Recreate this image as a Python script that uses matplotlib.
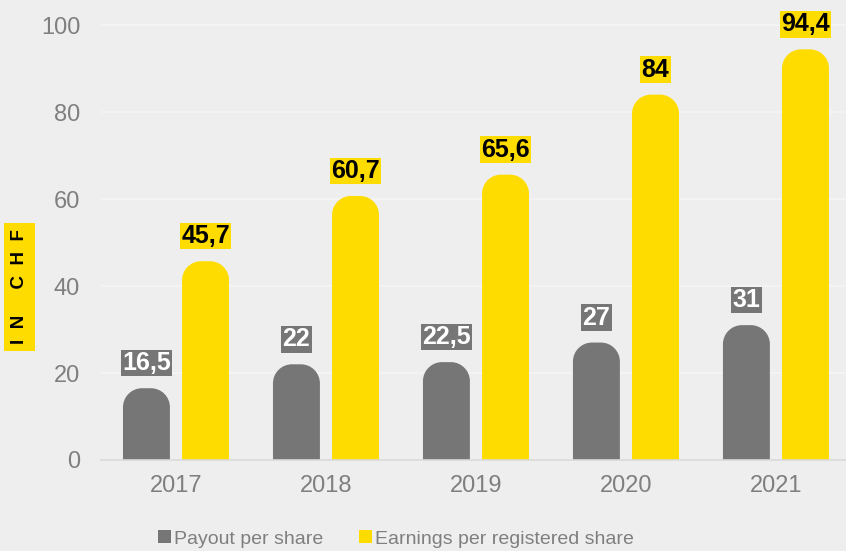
import matplotlib.pyplot as plt
from matplotlib.path import Path
from matplotlib.patches import PathPatch, Patch

plt.rcParams['font.family'] = ['Liberation Sans', 'DejaVu Sans']

years = ['2017', '2018', '2019', '2020', '2021']
payout = [16.5, 22, 22.5, 27, 31]
earnings = [45.7, 60.7, 65.6, 84, 94.4]
payout_labels = ['16,5', '22', '22,5', '27', '31']
earnings_labels = ['45,7', '60,7', '65,6', '84', '94,4']

grey = '#767676'
yellow = '#FFDC00'
bg = '#EEEEEE'

fig = plt.figure(figsize=(8.46, 5.51), dpi=100, facecolor=bg)
ax = fig.add_axes([101 / 846, 91 / 551, 745 / 846, 460 / 551], facecolor=bg)
ax.set_xlim(-0.5, 4.467)
ax.set_ylim(0, 105.75)
fig.canvas.draw()


def rounded_bar(ax, xc, w, h, color, r_px=19):
    # corner radius in pixels -> data units
    inv = ax.transData.inverted()
    x0, y0 = inv.transform((0, 0))
    x1, y1 = inv.transform((r_px, r_px))
    rx, ry = abs(x1 - x0), abs(y1 - y0)
    rx = min(rx, w / 2)
    ry = min(ry, h)
    left, right = xc - w / 2, xc + w / 2
    k = 0.5523
    verts = [
        (left, 0), (left, h - ry),
        (left, h - ry + k * ry), (left + rx - k * rx, h), (left + rx, h),
        (right - rx, h),
        (right - rx + k * rx, h), (right, h - ry + k * ry), (right, h - ry),
        (right, 0), (left, 0),
    ]
    codes = [Path.MOVETO, Path.LINETO,
             Path.CURVE4, Path.CURVE4, Path.CURVE4,
             Path.LINETO,
             Path.CURVE4, Path.CURVE4, Path.CURVE4,
             Path.LINETO, Path.CLOSEPOLY]
    ax.add_patch(PathPatch(Path(verts, codes), facecolor=color, edgecolor='none', zorder=3))


w = 0.313
off = 0.197
for i in range(len(years)):
    rounded_bar(ax, i - off, w, payout[i], grey)
    rounded_bar(ax, i + off, w, earnings[i], yellow)
    ax.annotate(payout_labels[i], (i - off, payout[i]), xytext=(0, 25), textcoords='offset pixels',
                ha='center', va='center', fontsize=18, fontweight='bold', color='white',
                bbox=dict(boxstyle='square,pad=0.05', facecolor=grey, edgecolor='none'), zorder=4)
    ax.annotate(earnings_labels[i], (i + off, earnings[i]), xytext=(0, 25), textcoords='offset pixels',
                ha='center', va='center', fontsize=18, fontweight='bold', color='black',
                bbox=dict(boxstyle='square,pad=0.05', facecolor=yellow, edgecolor='none'), zorder=4)

ax.set_xticks(range(len(years)))
ax.set_xticklabels(years)
ax.set_yticks([0, 20, 40, 60, 80, 100])
ax.tick_params(axis='both', length=0, labelsize=17, labelcolor='#7F7F7F')
ax.tick_params(axis='x', pad=11)
ax.tick_params(axis='y', pad=15)
ax.grid(axis='y', color='#F5F5F5', linewidth=1.2, zorder=0)
for s in ['top', 'right', 'left']:
    ax.spines[s].set_visible(False)
ax.spines['bottom'].set_color('#D9D9D9')
ax.spines['bottom'].set_linewidth(1.2)
ax.spines['bottom'].set_zorder(5)

fig.text(19.5 / 846, 1 - 286.5 / 551, 'I  N     C  H  F', rotation=90, ha='center', va='center',
         fontsize=13.5, fontweight='bold', color='black',
         bbox=dict(boxstyle='square,pad=0.35', facecolor=yellow, edgecolor='none'))

handles = [Patch(facecolor=grey, label='Payout per share'),
           Patch(facecolor=yellow, label='Earnings per registered share')]
fig.legend(handles=handles, loc='center', bbox_to_anchor=(396 / 846, 1 - 539 / 551), ncol=2,
           frameon=False, fontsize=14, labelcolor='#7F7F7F', handlelength=0.65, handleheight=0.65,
           handletextpad=0.15, columnspacing=1.85, borderpad=0)

fig.savefig('out.png', dpi=100, facecolor=bg)
